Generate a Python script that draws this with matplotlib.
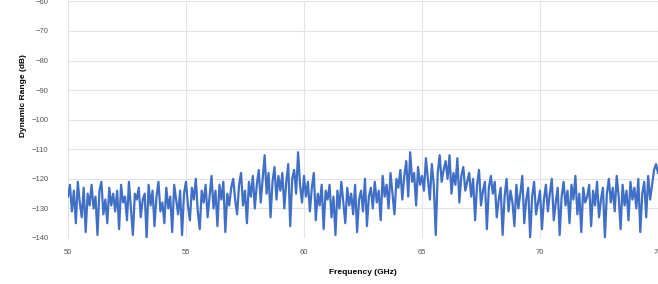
import numpy as np
import matplotlib
matplotlib.use('Agg')
import matplotlib.pyplot as plt

# values, 12 points per GHz from 50 to 75 GHz
freq_start = 50.0
freq_stop = 75.0
dyn_range = [
    -126, -122, -131, -124, -135, -121, -128, -133, -123, -138, -125, -129,  # 50
    -122, -130, -126, -139, -124, -121, -132, -127, -135, -123, -129, -125,  # 51
    -131, -124, -137, -122, -128, -126, -134, -121, -130, -139, -125, -127,  # 52
    -123, -133, -127, -125, -140, -122, -129, -124, -136, -126, -121, -131,  # 53
    -128, -135, -123, -130, -126, -138, -122, -127, -132, -124, -139, -125,  # 54
    -121, -129, -134, -123, -127, -120, -131, -137, -124, -128, -122, -133,  # 55
    -126, -119, -130, -124, -136, -122, -127, -121, -138, -125, -129, -123,  # 56
    -120, -127, -132, -122, -118, -129, -124, -135, -121, -126, -119, -130,  # 57
    -122, -117, -128, -120, -112, -125, -118, -133, -121, -116, -127, -119,  # 58
    -124, -118, -130, -121, -115, -136, -120, -117, -125, -111, -122, -128,  # 59
    -119, -126, -121, -131, -123, -118, -134, -125, -129, -122, -137, -124,  # 60
    -127, -122, -133, -126, -139, -124, -130, -121, -128, -135, -123, -129,  # 61
    -125, -132, -122, -138, -127, -124, -131, -120, -136, -126, -123, -130,  # 62
    -121, -128, -124, -134, -119, -126, -122, -130, -118, -125, -132, -120,  # 63
    -123, -117, -127, -119, -114, -126, -111, -121, -118, -129, -116, -122,  # 64
    -119, -124, -113, -120, -127, -115, -122, -139, -118, -112, -121, -117,  # 65
    -114, -120, -112, -125, -118, -122, -113, -128, -119, -116, -124, -121,  # 66
    -118, -126, -120, -134, -122, -117, -129, -124, -121, -137, -123, -119,  # 67
    -125, -121, -133, -127, -123, -139, -126, -120, -131, -124, -128, -136,  # 68
    -122, -130, -125, -119, -135, -127, -123, -140, -126, -121, -132, -128,  # 69
    -124, -137, -127, -122, -131, -125, -120, -134, -128, -123, -139, -126,  # 70
    -121, -129, -124, -135, -122, -127, -119, -132, -125, -138, -123, -128,  # 71
    -126, -122, -136, -124, -129, -121, -133, -127, -123, -140, -125, -120,  # 72
    -128, -123, -131, -119, -126, -137, -122, -129, -124, -134, -121, -127,  # 73
    -123, -130, -120, -138, -125, -121, -133, -119, -127, -122, -117, -115,  # 74
    -118,                                                                    # 75
]
x_ticks = [50, 55, 60, 65, 70, 75]
y_ticks = [-140, -130, -120, -110, -100, -90, -80, -70, -60]

freq = np.linspace(freq_start, freq_stop, len(dyn_range))

plt.rcParams['font.family'] = ['Liberation Sans', 'DejaVu Sans']

fig = plt.figure(figsize=(6.58, 2.84), dpi=100)
ax = fig.add_axes([0.1033, 0.162, 0.8967, 0.833])

ax.plot(freq, dyn_range, color='#3f6fc6', linewidth=1.6)

ax.set_xlim(50, 75)
ax.set_ylim(-140, -60)
ax.set_xticks(x_ticks)
ax.set_yticks(y_ticks)
ax.grid(True, color='#e3e3e3', linewidth=0.8)
ax.set_axisbelow(True)
for s in ax.spines.values():
    s.set_visible(False)
ax.tick_params(length=0, labelsize=5.5, labelcolor='#555555')
ax.tick_params(axis='y', pad=14)
ax.tick_params(axis='x', pad=8)

ax.set_xlabel('Frequency (GHz)', fontsize=6, fontweight='bold', labelpad=9)
ax.set_ylabel('Dynamic Range (dB)', fontsize=6, fontweight='bold', labelpad=8)
ax.yaxis.set_label_coords(-0.07, 0.6)

fig.savefig('out.png', dpi=100)
